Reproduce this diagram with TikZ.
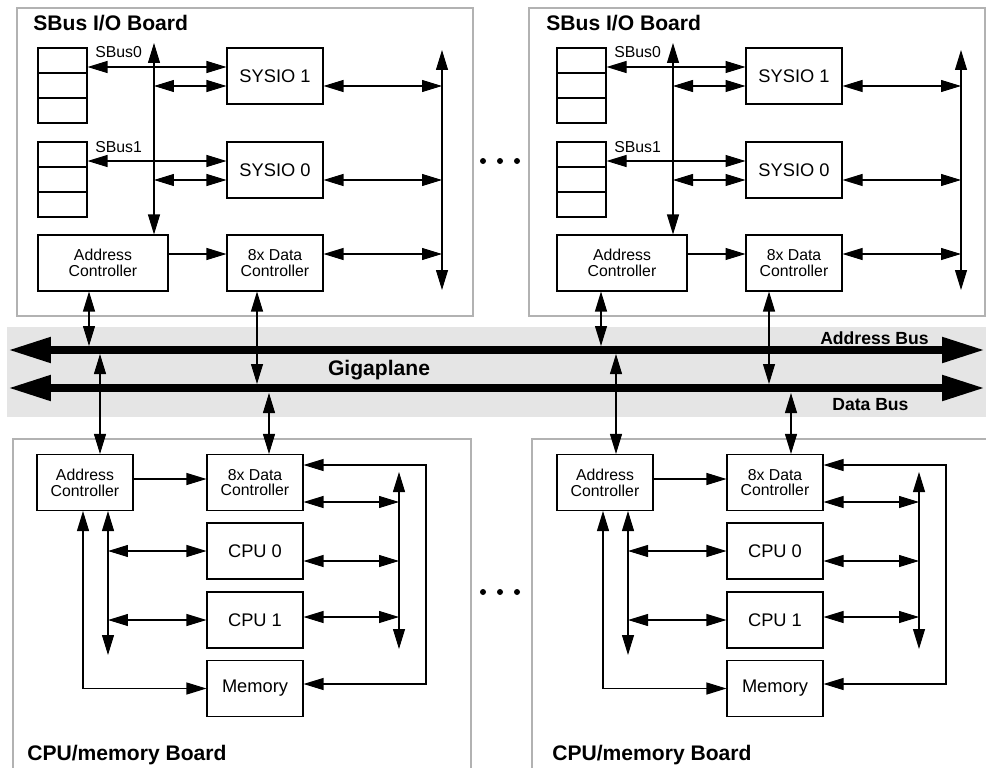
\documentclass[tikz,border=0pt]{standalone}
\usepackage{fontspec}
\setmainfont{Liberation Sans}
\usetikzlibrary{arrows.meta}

\tikzset{
  arr/.tip={Triangle[length=0.4cm, width=0.24cm]},
  bt/.tip={Triangle[length=0.86cm, width=0.48cm]},
  box/.style={draw, line width=0.6pt, minimum width=1.92cm, minimum height=1.12cm, inner sep=0pt, font=\fontsize{10.4}{12}\selectfont},
  ctrl/.style={box, align=center, font=\fontsize{9}{9}\selectfont},
  slots/.style={draw, line width=0.6pt, minimum width=0.98cm, minimum height=1.5cm, inner sep=0pt},
  board/.style={draw=gray!60, line width=0.6pt},
  title/.style={anchor=base west, inner sep=0pt, font=\fontsize{12}{14}\selectfont\bfseries},
  small/.style={anchor=base west, inner sep=0pt, font=\fontsize{9}{10}\selectfont},
  dbl/.style={line width=0.6pt, arrows={arr-arr}},
  sgl/.style={line width=0.6pt, arrows={-arr}},
  bus/.style={line width=0.16cm, arrows={bt-bt}},
}

\begin{document}
\begin{tikzpicture}[x=0.02cm, y=-0.02cm]
\useasboundingbox (0,0) rectangle (986,767);
\clip (0,0) rectangle (986,767);
% Gigaplane
\fill[gray!20] (7,327) rectangle (986,417);
\coordinate (abL) at (8,350);
\coordinate (abR) at (985,350);
\coordinate (dbL) at (8,388);
\coordinate (dbR) at (985,388);
\draw[bus] (abL) -- (abR);
\draw[bus] (dbL) -- (dbR);
\coordinate (abT) at (0,346);
\coordinate (abB) at (0,354);
\coordinate (dbT) at (0,384);
\coordinate (dbB) at (0,393);
\node[anchor=base, inner sep=0pt, font=\fontsize{12}{14}\selectfont\bfseries] (giga) at (379,375) {Gigaplane};
\node[anchor=base east, inner sep=0pt, font=\fontsize{10}{12}\selectfont\bfseries] (abus) at (929,344) {Address Bus};
\node[anchor=base west, inner sep=0pt, font=\fontsize{10}{12}\selectfont\bfseries] (dbus) at (832,410) {Data Bus};

% SBus I/O boards
\foreach \i/\dx/\fx/\tx/\ca/\cd in {1/0/0/0/-0.28/-0.36, 2/519/512/513/-0.42/-0.5} {
  \draw[board] ({17+\fx},8) rectangle ({473+\fx},316);
  \node[title] at ({33+\tx},31) {SBus I/O Board};
  \node[slots] (sl0\i) at ({62.5+\dx},85.5) {};
  \node[slots] (sl1\i) at ({62.5+\dx},179.5) {};
  \foreach \y in {73,98,167,192}
    \draw[line width=0.6pt] ({38+\dx},\y) -- ({87+\dx},\y);
  \node[box] (sa\i) at ({275+\dx},76) {SYSIO 1};
  \node[box] (sb\i) at ({275+\dx},170) {SYSIO 0};
  \node[ctrl, minimum width=2.6cm] (ta\i) at ({103+\dx},263) {Address\\Controller};
  \node[ctrl] (td\i) at ({275+\dx},263) {8x Data\\Controller};
  \node[small] at ({95+\dx},58) {SBus0};
  \node[small] at ({95+\dx},152) {SBus1};
  % local buses
  \coordinate (lv\i) at ({154+\dx},43);
  \coordinate (rt\i) at ({442+\dx},50);
  \coordinate (rb\i) at ({442+\dx},290);
  \draw[dbl] (lv\i) -- (lv\i |- ta\i.north);
  \draw[dbl] (rt\i) -- (rb\i);
  \coordinate (p0\i) at ([yshift=0.18cm]sa\i.west);
  \coordinate (p1\i) at ([yshift=-0.2cm]sa\i.west);
  \coordinate (p2\i) at ([yshift=0.18cm]sb\i.west);
  \coordinate (p3\i) at ([yshift=-0.2cm]sb\i.west);
  \draw[dbl] (sl0\i.east |- p0\i) -- (p0\i);
  \draw[dbl] (lv\i |- p1\i) -- (p1\i);
  \draw[dbl] (sl1\i.east |- p2\i) -- (p2\i);
  \draw[dbl] (lv\i |- p3\i) -- (p3\i);
  \coordinate (q1\i) at ([yshift=-0.2cm]sa\i.east);
  \coordinate (q2\i) at ([yshift=-0.2cm]sb\i.east);
  \coordinate (q3\i) at ([yshift=0.18cm]td\i.west);
  \draw[dbl] (q1\i) -- (q1\i -| rt\i);
  \draw[dbl] (q2\i) -- (q2\i -| rt\i);
  \draw[sgl] (ta\i.east |- q3\i) -- (q3\i);
  \draw[dbl] (td\i.east |- q3\i) -- (q3\i -| rt\i);
  % to the Gigaplane
  \coordinate (ua\i) at ([xshift=\ca cm]ta\i.south);
  \coordinate (ud\i) at ([xshift=\cd cm]td\i.south);
  \draw[dbl] (ua\i) -- (ua\i |- abT);
  \draw[dbl] (ud\i) -- (ud\i |- dbT);
}

% CPU/memory boards
\foreach \i/\dx/\fx/\tx/\ca/\cd in {1/0/0/0/0.3/0.28, 2/520/519/525/0.22/0.32} {
  \draw[board] ({13+\fx},775) |- ({471+\fx},439) -- ({471+\fx},775);
  \node[title] at ({27+\tx},760) {CPU/memory Board};
  \node[ctrl] (ba\i) at ({85+\dx},482.5) {Address\\Controller};
  \node[ctrl] (bd\i) at ({255+\dx},482.5) {8x Data\\Controller};
  \node[box] (c0\i) at ({255+\dx},551) {CPU 0};
  \node[box] (c1\i) at ({255+\dx},620) {CPU 1};
  \node[box] (me\i) at ({255+\dx},688.5) {Memory};
  \coordinate (lb\i) at ({108+\dx},655);
  \coordinate (vt\i) at ({399+\dx},472);
  \coordinate (vb\i) at ({399+\dx},649);
  \coordinate (lc\i) at ({426+\dx},684);
  \coordinate (r0\i) at ([yshift=0.07cm]bd\i.west);
  \draw[sgl] (ba\i.east |- r0\i) -- (r0\i);
  \draw[dbl] ([xshift=-0.04cm]ba\i.south) |- (me\i.west);
  \draw[dbl] (lb\i |- ba\i.south) -- (lb\i);
  \draw[dbl] (lb\i |- c0\i.west) -- (c0\i.west);
  \draw[dbl] (lb\i |- c1\i.west) -- (c1\i.west);
  \draw[dbl] (vt\i) -- (vb\i);
  \coordinate (r1\i) at ([yshift=-0.39cm]bd\i.east);
  \coordinate (r2\i) at ([yshift=-0.2cm]c0\i.east);
  \coordinate (r3\i) at ([yshift=0.06cm]c1\i.east);
  \draw[dbl] (r1\i) -- (r1\i -| vt\i);
  \draw[dbl] (r2\i) -- (r2\i -| vt\i);
  \draw[dbl] (r3\i) -- (r3\i -| vt\i);
  \draw[dbl] ([yshift=0.35cm]bd\i.east) -| (lc\i) -- (lc\i -| me\i.east);
  % to the Gigaplane
  \coordinate (wa\i) at ([xshift=\ca cm]ba\i.north);
  \coordinate (wd\i) at ([xshift=\cd cm]bd\i.north);
  \draw[dbl] (wa\i |- abB) -- (wa\i);
  \draw[dbl] (wd\i |- dbB) -- (wd\i);
}

% more boards
\foreach \x in {483,500,517} {
  \fill (\x,161) circle (0.06cm);
  \fill (\x,592) circle (0.06cm);
}
\end{tikzpicture}
\end{document}
